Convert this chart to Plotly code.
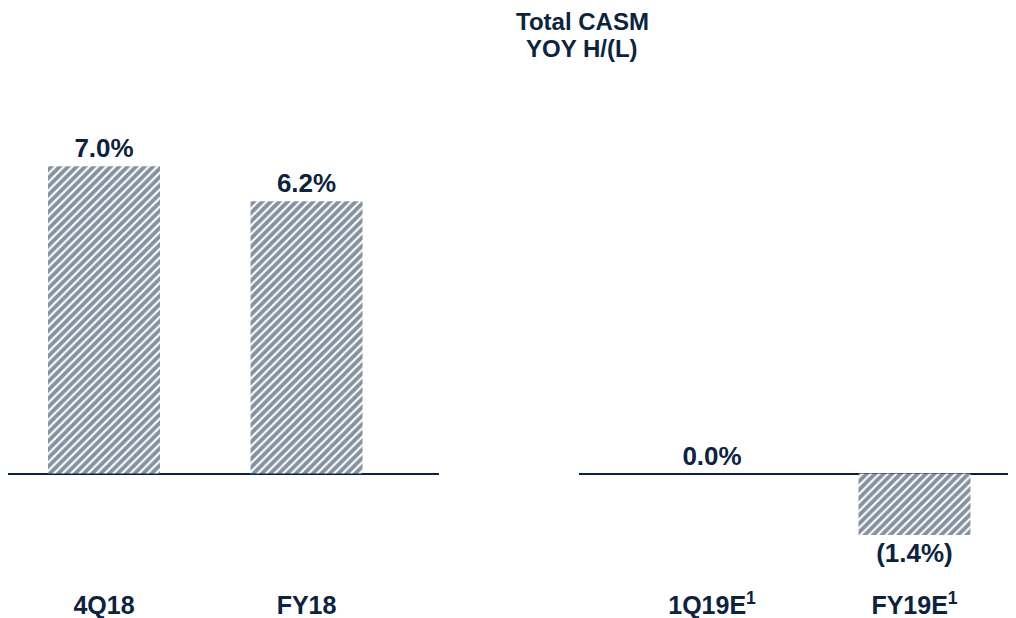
import plotly.graph_objects as go
from plotly.subplots import make_subplots

# ---- data ----
left_categories = ["4Q18", "FY18"]
left_values = [7.0, 6.2]
right_categories = ["1Q19E<sup>1</sup>", "FY19E<sup>1</sup>"]
right_values = [0.0, -1.4]
title_lines = ["Total CASM", "YOY H/(L)"]

NAVY = "#0C2340"
FONT = "Arial, Liberation Sans, sans-serif"


def fmt(v):
    return f"({abs(v):.1f}%)" if v < 0 else f"{v:.1f}%"


fig = make_subplots(rows=1, cols=2)

pattern = dict(shape="/", fgcolor=NAVY, bgcolor="white", size=6, solidity=0.65)

for col, cats, vals in [(1, left_categories, left_values), (2, right_categories, right_values)]:
    fig.add_trace(
        go.Bar(
            x=cats,
            y=vals,
            width=0.553,
            text=[fmt(v) for v in vals],
            textposition="outside",
            constraintext="none",
            cliponaxis=False,
            textfont=dict(family=FONT, size=26, color=NAVY, weight="bold"),
            marker=dict(color="white", pattern=pattern, line=dict(width=0)),
            showlegend=False,
            hoverinfo="skip",
        ),
        row=1,
        col=col,
    )

W, H = 1016, 618
T, B = 100, 38
PH = H - T - B

for line, py in zip(title_lines, [14, 40]):
    fig.add_annotation(
        text="<b>" + line + "</b>",
        xref="paper",
        yref="paper",
        x=574 / W,
        y=1 + (T - py) / PH,
        xanchor="center",
        yanchor="middle",
        showarrow=False,
        font=dict(family=FONT, size=24, color=NAVY),
    )

fig.update_layout(
    width=W,
    height=H,
    margin=dict(l=0, r=0, t=T, b=B),
    plot_bgcolor="white",
    paper_bgcolor="white",
    font=dict(family=FONT, color=NAVY),
    xaxis=dict(domain=[0, 431 / W], range=[-0.474, 1.654]),
    xaxis2=dict(domain=[571 / W, 1.0], range=[-0.657, 1.541]),
)

yr = [-2.608, 8.326]
for ax in ["yaxis", "yaxis2"]:
    fig.layout[ax].update(
        range=yr,
        showgrid=False,
        showticklabels=False,
        zeroline=True,
        zerolinecolor=NAVY,
        zerolinewidth=2,
        showline=False,
    )
for ax in ["xaxis", "xaxis2"]:
    fig.layout[ax].update(
        showgrid=False,
        showline=False,
        zeroline=False,
        ticks="",
        tickfont=dict(family=FONT, size=25, color=NAVY, weight="bold"),
    )

fig.write_html("out.html")
